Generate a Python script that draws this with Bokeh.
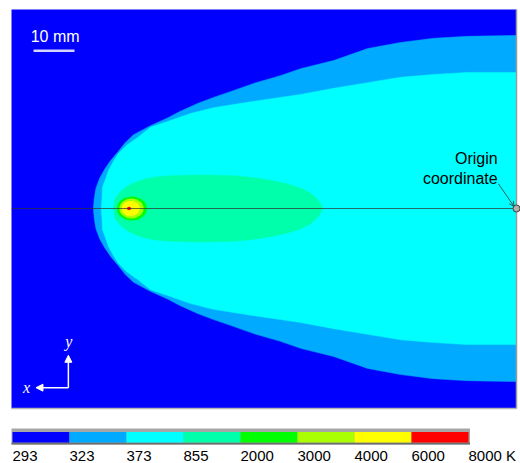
import numpy as np
from bokeh.plotting import figure
from bokeh.layouts import column
from bokeh.models import Range1d, Arrow, NormalHead, OpenHead
from bokeh.core.properties import value
from bokeh.embed import file_html
from bokeh.resources import INLINE

# ---------------- data ----------------
# temperature levels (K) of the colour scale and their colours
levels = ["293", "323", "373", "855", "2000", "3000", "4000", "6000", "8000 K"]
colors = ["#0000FF", "#00AAFF", "#00FFFF", "#00FFAA", "#00FF00", "#AAFF00", "#FFFF00", "#FF0000"]

# computational domain (mm), x measured leftward from the origin
domain_x = [0.0, 123.2]
domain_y = [-48.8, 48.6]

# 323 K isotherm: x (mm) and half-width (mm)
outer_x = [103.2, 103.0, 102.6, 101.7, 100.5, 99.0, 97.3, 95.4, 93.4, 89.3, 85.1, 82.0,
           77.8, 73.9, 69.8, 64.1, 57.6, 52.7, 44.6, 36.3, 28.3, 20.2, 12.0, 0.0]
outer_h = [0.0, 2.4, 4.9, 7.3, 9.5, 11.7, 13.7, 16.1, 18.0, 20.2, 22.1, 23.7,
           25.6, 27.1, 28.5, 30.5, 32.4, 34.1, 36.1, 39.0, 40.5, 41.5, 42.0, 42.2]

# 373 K isotherm
inner_x = [101.3, 101.1, 101.0, 100.2, 99.5, 98.3, 97.1, 95.1, 92.4, 89.3, 85.1, 79.5,
           73.9, 65.6, 57.6, 52.7, 44.6, 36.3, 28.3, 20.2, 12.0, 0.0]
inner_h = [0.0, 2.4, 5.1, 7.3, 9.3, 11.5, 13.4, 15.4, 17.3, 19.8, 21.2, 23.2,
           24.6, 25.9, 27.1, 27.8, 29.3, 30.7, 32.0, 32.7, 33.2, 33.2]

# 855 K isotherm
mid_x = [98.3, 98.1, 97.6, 96.6, 95.4, 93.4, 91.0, 88.0, 84.4, 77.1, 69.0, 64.9,
         60.7, 56.3, 52.7, 50.2, 48.5, 47.6, 47.3]
mid_h = [0.0, 1.7, 2.9, 4.1, 5.1, 6.2, 7.1, 7.7, 8.0, 8.2, 8.0, 7.6,
         7.0, 6.1, 5.0, 3.7, 2.2, 0.8, 0.0]

# hot spot isotherms 2000, 3000, 4000, 6000 K: centre x, width, height (mm)
spot_x = [93.8, 93.9, 94.1, 94.5]
spot_w = [7.3, 5.9, 4.4, 1.0]
spot_h = [5.9, 4.9, 3.7, 0.85]

scale_len = 10.0  # mm

FONT = value("Liberation Sans")

# ---------------- main figure ----------------
PXMM = 4.1
x0, x1 = (516 - 11) / PXMM, (516 - 520) / PXMM
y0, y1 = (208 - 410) / PXMM, (208 - 9) / PXMM

p = figure(width=520, height=410, x_range=Range1d(x0, x1), y_range=Range1d(y0, y1),
           x_axis_type=None, y_axis_type=None, toolbar_location=None,
           output_backend="svg", min_border_left=11, min_border_right=0,
           min_border_top=9, min_border_bottom=0)
p.outline_line_color = None
p.background_fill_color = "white"
p.border_fill_color = "white"
p.grid.visible = False

# 293 K background
p.quad(left=domain_x[0], right=domain_x[1] + 1, bottom=domain_y[0], top=domain_y[1] + 1,
       fill_color=colors[0], line_color=None)


def band(xs, hs):
    xs = np.asarray(xs)
    hs = np.asarray(hs)
    px = np.concatenate([xs, xs[::-1]])
    py = np.concatenate([hs, -hs[::-1]])
    return px, py

for xs, hs, c in [(outer_x, outer_h, colors[1]), (inner_x, inner_h, colors[2]),
                  (mid_x, mid_h, colors[3])]:
    bx, by = band(xs, hs)
    p.patch(bx, by, fill_color=c, line_color=c, line_width=0.5)

for i in range(len(spot_x)):
    p.ellipse(x=spot_x[i], y=0, width=spot_w[i], height=spot_h[i],
              fill_color=colors[4 + i], line_color=None)

# centre line
p.line([domain_x[1], domain_x[0]], [0, 0], line_color="#303030", line_alpha=0.7, line_width=1)

# domain border (right, bottom)
p.line([domain_x[0], domain_x[0]], [domain_y[0], domain_y[1]], line_color="#9a9a9a", line_width=1.5)
p.line([domain_x[0], domain_x[1]], [domain_y[0], domain_y[0]], line_color="#b4b4b4", line_width=1.5)

# origin marker and annotation
p.add_layout(Arrow(end=OpenHead(size=5, line_color="#2a5a5a", line_width=1),
                   x_start=4.4, y_start=6.0, x_end=0.6, y_end=0.5,
                   line_color="#2a5a5a", line_width=1))
p.scatter([0.0], [0.0], size=7, fill_color="#b0b0b0", line_color="#404040", line_width=1)
p.text(x=[4.6, 4.6], y=[12.2, 7.3], text=["Origin", "coordinate"],
       text_font=FONT, text_font_size="16px", text_color="black",
       text_align="right", text_baseline="middle")

# scale bar
sb_x, sb_y = 117.8, 38.5
p.line([sb_x, sb_x - scale_len], [sb_y, sb_y], line_color="#d4d4ff", line_width=2.5)
p.text(x=[118.5], y=[42.0], text=["10 mm"], text_font=FONT,
       text_font_size="16px", text_color="white", text_align="left",
       text_baseline="middle")

# coordinate icon
ax_x, ax_y, ax_len = 109.3, -43.7, 7.9
p.add_layout(Arrow(end=NormalHead(size=7, fill_color="white", line_color="white"),
                   x_start=ax_x, y_start=ax_y, x_end=ax_x, y_end=ax_y + ax_len,
                   line_color="white", line_width=1.5))
p.add_layout(Arrow(end=NormalHead(size=7, fill_color="white", line_color="white"),
                   x_start=ax_x, y_start=ax_y, x_end=ax_x + ax_len, y_end=ax_y,
                   line_color="white", line_width=1.5))
p.text(x=[ax_x - 0.1, ax_x + ax_len + 2.3], y=[ax_y + ax_len + 3.3, ax_y + 0.1], text=["y", "x"],
       text_font=value("Liberation Serif"), text_font_style="italic", text_font_size="16px",
       text_color="white", text_align="center", text_baseline="middle")

# ---------------- colour bar ----------------
SEG = 57.0
cb = figure(width=520, height=53, x_range=Range1d((11 - 12) / SEG, (520 - 12) / SEG),
            y_range=Range1d(53, 0),
            x_axis_type=None, y_axis_type=None, toolbar_location=None,
            output_backend="svg", min_border_left=11, min_border_right=0,
            min_border_top=0, min_border_bottom=0)
cb.outline_line_color = None
cb.grid.visible = False
n = len(colors)
idx = np.arange(n)
cb.quad(left=-0.026, right=n + 0.026, top=18, bottom=34, fill_color="#a6a6a6", line_color=None)
cb.quad(left=-0.026, right=n + 0.026, top=32, bottom=34, fill_color="#6e6e6e", line_color=None)
cb.quad(left=idx, right=idx + 1, top=[21.5] * n, bottom=[32] * n, fill_color=colors, line_color=None)
cb.text(x=np.arange(len(levels)), y=[45.2] * len(levels), text=levels,
        text_font=FONT, text_font_size="15px", text_color="black",
        text_align="left", text_baseline="middle")

layout = column(p, cb, spacing=0)
open("out.html", "w").write(file_html(layout, INLINE))
